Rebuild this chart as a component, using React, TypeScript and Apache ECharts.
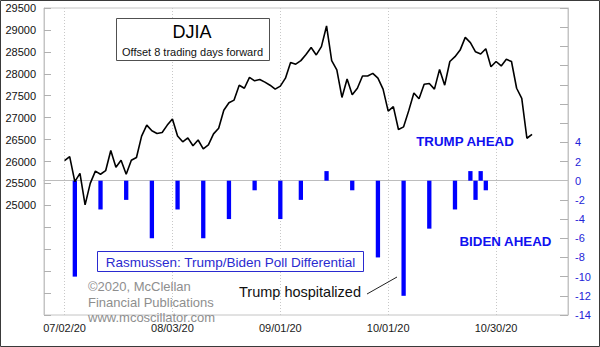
import React, { useEffect, useRef } from 'react';
import * as echarts from 'echarts';

// ---- Data ----
const AXIS_START = '2020-06-26';
const AXIS_END = '2020-11-19';
const HOLIDAYS = ['2020-07-03', '2020-09-07'];
const DATE_LABELS = ['07/02/20', '08/03/20', '09/01/20', '10/01/20', '10/30/20'];

// DJIA (offset 8 trading days forward), one value per trading day from DJIA_START
const DJIA_START = '07/02/20';
const djia = [
  26020, 26110, 25540, 25730, 25010, 25500, 25780, 25710, 25790, 26250,
  25870, 26030, 25710, 26030, 26090, 26580, 26830, 26700, 26640, 26660,
  26830, 26970, 26580, 26450, 26540, 26360, 26490, 26290, 26380, 26630,
  26760, 27170, 27340, 27400, 27740, 27670, 27920, 27840, 27870, 27810,
  27740, 27650, 27720, 27900, 28260, 28220, 28300, 28440, 28600, 28430,
  28620, 29090, 28300, 28090, 27460, 27880, 27520, 27670, 27950, 27950,
  28010, 27900, 27650, 27150, 27250, 26730, 26790, 27160, 27560, 27430,
  27760, 27780, 27650, 28100, 27740, 28280, 28390, 28540, 28830, 28710,
  28500, 28450, 28570, 28160, 28280, 28180, 28330, 28280, 27670, 27440,
  26530, 26620,
];

// Rasmussen Trump/Biden poll differential
const pollDates = [
  '07/07/20', '07/14/20', '07/21/20', '07/28/20', '08/04/20', '08/11/20', '08/18/20',
  '08/25/20', '09/01/20', '09/08/20', '09/15/20', '09/22/20', '09/29/20', '10/06/20',
  '10/13/20', '10/20/20', '10/23/20', '10/26/20', '10/27/20', '10/28/20',
];
const pollValues = [-10, -3, -2, -6, -3, -6, -4, -1, -4, -2, 1, -1, -8, -12, -5, -3, 1, -2, 1, -1];

const LEFT_MIN = 22500;
const LEFT_MAX = 29500;
const LEFT_STEP = 500;
const LEFT_LABEL_FROM = 25000;
const RIGHT_MIN = -14;
const RIGHT_MAX = 18;
const RIGHT_STEP = 2;
const RIGHT_LABEL_TO = 4;

// ---- helpers ----
function fmt(d: Date): string {
  const mm = String(d.getUTCMonth() + 1).padStart(2, '0');
  const dd = String(d.getUTCDate()).padStart(2, '0');
  const yy = String(d.getUTCFullYear()).slice(2);
  return `${mm}/${dd}/${yy}`;
}
function tradingDays(start: string, end: string, holidays: string[]): string[] {
  const out: string[] = [];
  const d = new Date(start + 'T00:00:00Z');
  const e = new Date(end + 'T00:00:00Z');
  while (d.getTime() <= e.getTime()) {
    const wd = d.getUTCDay();
    const iso = d.toISOString().slice(0, 10);
    if (wd !== 0 && wd !== 6 && !holidays.includes(iso)) out.push(fmt(d));
    d.setUTCDate(d.getUTCDate() + 1);
  }
  return out;
}

const FONT = '"Liberation Sans", Arial, Helvetica, sans-serif';

export default function App() {
  const ref = useRef<HTMLDivElement>(null);

  useEffect(() => {
    if (!ref.current) return;
    const chart = echarts.init(ref.current, null, { renderer: 'svg' });

    const categories = tradingDays(AXIS_START, AXIS_END, HOLIDAYS);
    const startIdx = categories.indexOf(DJIA_START);
    const lineData = categories.map((_, i) => {
      const k = i - startIdx;
      return k >= 0 && k < djia.length ? djia[k] : null;
    });
    const barData = categories.map((c) => {
      const k = pollDates.indexOf(c);
      return k >= 0 ? pollValues[k] : null;
    });
    const isLabelDate = (_i: number, v: string) => DATE_LABELS.includes(v);

    chart.setOption({
      animation: false,
      backgroundColor: '#ffffff',
      textStyle: { fontFamily: FONT },
      grid: {
        left: 44,
        right: 32,
        top: 8,
        bottom: 32,
        show: true,
        borderColor: '#c4c4c4',
        borderWidth: 1,
        backgroundColor: 'transparent',
      },
      xAxis: {
        type: 'category',
        data: categories,
        boundaryGap: false,
        axisLine: { show: true, lineStyle: { color: '#c4c4c4', width: 1 } },
        axisTick: { show: false, interval: isLabelDate },
        axisLabel: {
          interval: isLabelDate,
          color: '#1a1a1a',
          fontSize: 11,
          fontFamily: FONT,
          margin: 7,
        },
        splitLine: {
          show: true,
          interval: isLabelDate,
          lineStyle: { color: '#c8c8c8', type: [1, 2], width: 1 },
        },
      },
      yAxis: [
        {
          type: 'value',
          position: 'left',
          min: LEFT_MIN,
          max: LEFT_MAX,
          interval: LEFT_STEP,
          axisLine: { show: true, lineStyle: { color: '#c4c4c4' } },
          axisTick: { show: true, inside: true, length: 7, lineStyle: { color: '#b0b0b0' } },
          splitLine: { show: false },
          axisLabel: {
            color: '#111',
            fontSize: 11,
            fontFamily: FONT,
            margin: 8,
            formatter: (v: number) => (v >= LEFT_LABEL_FROM ? String(v) : ''),
          },
        },
        {
          type: 'value',
          position: 'right',
          min: RIGHT_MIN,
          max: RIGHT_MAX,
          interval: RIGHT_STEP,
          axisLine: { show: true, lineStyle: { color: '#c4c4c4' } },
          axisTick: { show: true, inside: true, length: 8, lineStyle: { color: '#b0b0b0' } },
          splitLine: { show: false },
          axisLabel: {
            color: '#2323d8',
            fontSize: 11,
            fontFamily: FONT,
            margin: 7,
            formatter: (v: number) => (v <= RIGHT_LABEL_TO ? String(v) : ''),
          },
        },
      ],
      series: [
        {
          name: 'Rasmussen: Trump/Biden Poll Differential',
          type: 'bar',
          yAxisIndex: 1,
          data: barData,
          barWidth: 4.3,
          itemStyle: { color: '#0000ff' },
          z: 2,
          markLine: {
            silent: true,
            symbol: 'none',
            label: { show: false },
            lineStyle: { color: '#bdbdbd', type: 'solid', width: 1 },
            data: [{ yAxis: 0 }],
            z: 1,
          },
        },
        {
          name: 'DJIA',
          type: 'line',
          yAxisIndex: 0,
          data: lineData,
          showSymbol: false,
          symbol: 'none',
          connectNulls: false,
          lineStyle: { color: '#000000', width: 1.6 },
          z: 3,
        },
      ],
      graphic: [
        {
          type: 'rect',
          shape: { x: 0.5, y: 0.5, width: 599, height: 346 },
          style: { fill: 'none', stroke: '#3a3a3a', lineWidth: 1 },
          silent: true,
          z: 100,
        },
        {
          type: 'rect',
          shape: { x: 116.5, y: 18.5, width: 153, height: 42 },
          style: { fill: '#ffffff', stroke: '#505050', lineWidth: 1 },
          z: 50,
        },
        {
          type: 'text',
          x: 192,
          y: 31.5,
          style: { text: 'DJIA', font: `18px ${FONT}`, fill: '#000', align: 'center', verticalAlign: 'middle' },
          z: 51,
        },
        {
          type: 'text',
          x: 192.5,
          y: 51.5,
          style: { text: 'Offset 8 trading days forward', font: `11px ${FONT}`, fill: '#111', align: 'center', verticalAlign: 'middle' },
          z: 51,
        },
        {
          type: 'text',
          x: 465,
          y: 141.5,
          style: { text: 'TRUMP AHEAD', font: `bold 13.3px ${FONT}`, fill: '#1010f0', align: 'center', verticalAlign: 'middle' },
          z: 51,
        },
        {
          type: 'text',
          x: 459.5,
          y: 241.5,
          style: { text: 'BIDEN AHEAD', font: `bold 13.3px ${FONT}`, fill: '#1010f0', align: 'left', verticalAlign: 'middle' },
          z: 51,
        },
        {
          type: 'rect',
          shape: { x: 97.5, y: 251.5, width: 266, height: 20 },
          style: { fill: '#ffffff', stroke: '#2a2ad0', lineWidth: 1 },
          z: 50,
        },
        {
          type: 'text',
          x: 230.5,
          y: 262,
          style: {
            text: 'Rasmussen: Trump/Biden Poll Differential',
            font: `13.5px ${FONT}`,
            fill: '#2a2ad0',
            align: 'center',
            verticalAlign: 'middle',
          },
          z: 51,
        },
        {
          type: 'text',
          x: 88,
          y: 286.5,
          style: { text: '©2020, McClellan', font: `13px ${FONT}`, fill: '#8e8e8e', align: 'left', verticalAlign: 'middle' },
          z: 51,
        },
        {
          type: 'text',
          x: 88,
          y: 302,
          style: { text: 'Financial Publications', font: `13px ${FONT}`, fill: '#8e8e8e', align: 'left', verticalAlign: 'middle' },
          z: 51,
        },
        {
          type: 'text',
          x: 88,
          y: 317.5,
          style: { text: 'www.mcoscillator.com', font: `13px ${FONT}`, fill: '#8e8e8e', align: 'left', verticalAlign: 'middle' },
          z: 51,
        },
        {
          type: 'text',
          x: 239,
          y: 292,
          style: { text: 'Trump hospitalized', font: `14.5px ${FONT}`, fill: '#111', align: 'left', verticalAlign: 'middle' },
          z: 51,
        },
        {
          type: 'line',
          shape: { x1: 367, y1: 294, x2: 397, y2: 277 },
          style: { stroke: '#222', lineWidth: 1 },
          z: 51,
        },
      ],
    });

    return () => chart.dispose();
  }, []);

  return (
    <div
      ref={ref}
      style={{ position: 'fixed', left: 0, top: 0, width: 600, height: 347, background: '#fff' }}
    />
  );
}
